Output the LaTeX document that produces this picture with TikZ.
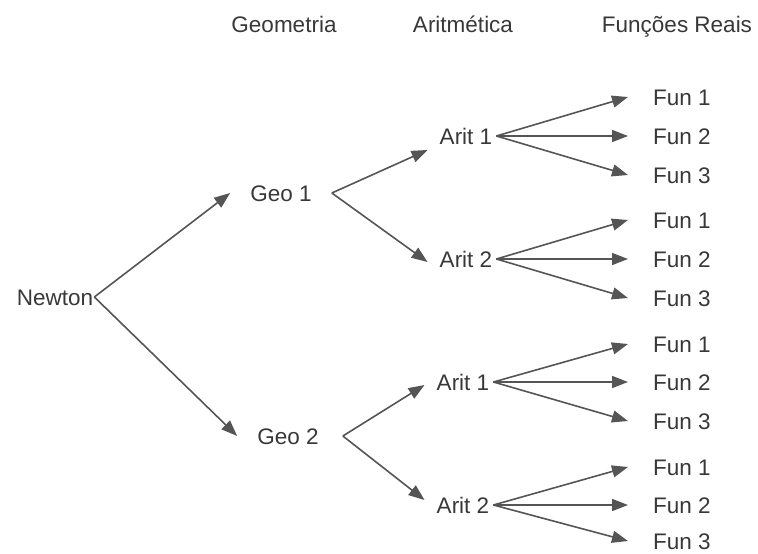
\documentclass[tikz,border=0pt]{standalone}
\usepackage{fontspec}
\setmainfont{Liberation Sans}
\usetikzlibrary{arrows.meta}
\definecolor{txt}{HTML}{383838}
\definecolor{ln}{HTML}{555555}
\begin{document}
\begin{tikzpicture}[x=1pt,y=-1pt,
  lbl/.style={inner sep=0pt,text=txt,font=\fontsize{22.5}{25}\selectfont,text height=16.1pt,text depth=0pt},
  conn/.style={draw=ln,line width=1.6pt,-{Triangle[length=16pt,width=12pt]}}]
\useasboundingbox (0,0) rectangle (758,554);
% headers
\node[lbl] (hgeo) at (284,24) {Geometria};
\node[lbl] (hari) at (463,24) {Aritmética};
\node[lbl] (hfun) at (677,24) {Funções Reais};
% tree
\node[lbl] (newton) at (55,297) {Newton};
\node[lbl] (geo1) at (281,193) {Geo 1};
\node[lbl] (geo2) at (288,436) {Geo 2};
\node[lbl] (a11) at (466,136) {Arit 1};
\node[lbl] (a12) at (466,259) {Arit 2};
\node[lbl] (a21) at (463,382) {Arit 1};
\node[lbl] (a22) at (463,505) {Arit 2};
\foreach \n/\y in {f111/97,f112/136,f113/175,f121/220,f122/259,f123/298,f211/344,f212/382,f213/421,f221/467,f222/505,f223/541}
  \node[lbl] (\n) at (682,\y) {};
\node[lbl] at (f111) {Fun 1};\node[lbl] at (f112) {Fun 2};\node[lbl] at (f113) {Fun 3};
\node[lbl] at (f121) {Fun 1};\node[lbl] at (f122) {Fun 2};\node[lbl] at (f123) {Fun 3};
\node[lbl] at (f211) {Fun 1};\node[lbl] at (f212) {Fun 2};\node[lbl] at (f213) {Fun 3};
\node[lbl] at (f221) {Fun 1};\node[lbl] at (f222) {Fun 2};\node[lbl] at (f223) {Fun 3};
% connectors
\draw[conn] ([xshift=1pt]newton.east) -- ([xshift=-20pt]geo1.west);
\draw[conn] ([xshift=1pt]newton.east) -- ([xshift=-20pt]geo2.west);
\draw[conn] ([xshift=20pt]geo1.east) -- ([xshift=-12pt]a11.west |- 0,150);
\draw[conn] ([xshift=20pt]geo1.east) -- ([xshift=-12pt]a12.west |- 0,262);
\draw[conn] ([xshift=24pt]geo2.east) -- ([xshift=-12pt]a21.west |- 0,385);
\draw[conn] ([xshift=24pt]geo2.east) -- ([xshift=-12pt]a22.west |- 0,500);
\foreach \a/\f in {a11/f111,a11/f112,a11/f113,a12/f121,a12/f122,a12/f123,a21/f211,a21/f212,a21/f213,a22/f221,a22/f222,a22/f223}
  \draw[conn] ([xshift=4pt]\a.east) -- (\f.west -| 628,0);
\end{tikzpicture}
\end{document}
